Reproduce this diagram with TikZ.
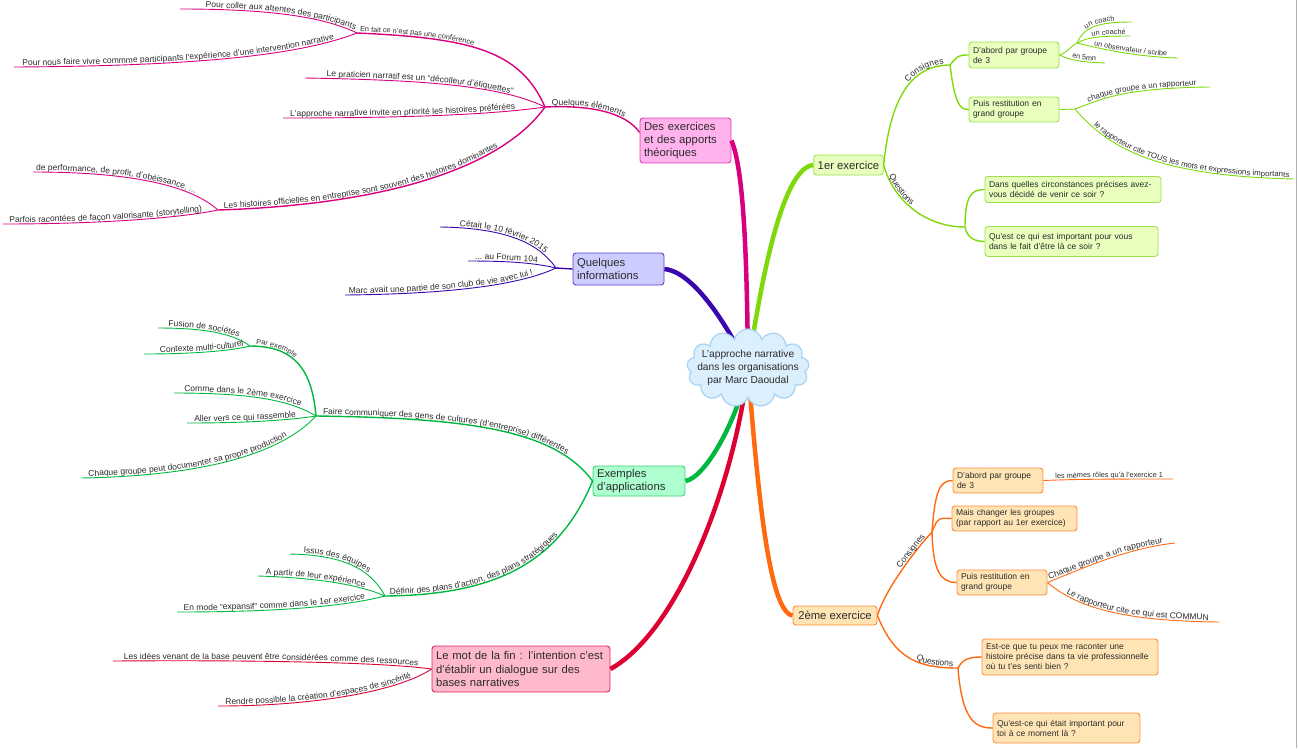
\documentclass[tikz,border=0pt]{standalone}
\usepackage{fontspec}
\setmainfont{Liberation Sans}
\usetikzlibrary{decorations.text,shapes.symbols}

\definecolor{txt}{HTML}{2B2B2B}
\definecolor{mgline}{HTML}{D8007F}
\definecolor{mgbox}{HTML}{FFB2EC}
\definecolor{mgedge}{HTML}{E23DB5}
\definecolor{plline}{HTML}{3A06AE}
\definecolor{plbox}{HTML}{CCCCFF}
\definecolor{pledge}{HTML}{5B3FC7}
\definecolor{grline}{HTML}{00B840}
\definecolor{grbox}{HTML}{ADFFD0}
\definecolor{gredge}{HTML}{3FCF70}
\definecolor{rdline}{HTML}{DC0033}
\definecolor{rdbox}{HTML}{FFB9CD}
\definecolor{rdedge}{HTML}{E0225A}
\definecolor{lmline}{HTML}{7ED90A}
\definecolor{lmbox}{HTML}{E8FFBE}
\definecolor{lmedge}{HTML}{9EE04E}
\definecolor{orline}{HTML}{FF6A10}
\definecolor{orbox}{HTML}{FFE5B5}
\definecolor{oredge}{HTML}{FF8B3D}
\definecolor{cloudfill}{HTML}{DCEFFC}
\definecolor{cloudedge}{HTML}{A6D3F3}

\newcommand\leafA{\fontsize{8.5}{10}\selectfont\color{txt}}
\newcommand\leafB{\fontsize{7.9}{9}\selectfont\color{txt}}
\newcommand\leafC{\fontsize{7.3}{8.5}\selectfont\color{txt}}

\tikzset{
  trunk/.style={line width=4.5pt},
  limb/.style={line width=1.4pt},
  twig/.style={line width=0.9pt},
  twigL/.style 2 args={postaction={decorate,decoration={text along path,raise=1.6pt,text align={align=right,right indent=#1},text={#2}}}},
  twigR/.style 2 args={postaction={decorate,decoration={text along path,raise=1.6pt,text align={align=left,left indent=#1},text={#2}}}},
  topic/.style={rounded corners=3pt,line width=0.9pt,align=left,inner xsep=4pt,inner ysep=2pt,text=txt,font=\fontsize{11.3}{13.3}\selectfont},
  leafbox/.style={topic,font=\fontsize{8.5}{10}\selectfont},
}

\begin{document}
\begin{tikzpicture}[x=1pt,y=-1pt]
\useasboundingbox (0,0) rectangle (1299,748);
\draw[black!30] (1296,0) -- (1296,748);

% main topics
\node[topic,fill=mgbox,draw=mgedge,text width=83pt,minimum height=45pt] (exo) at (685.5,140.5) {Des exercices\\et des apports\\théoriques};
\node[topic,fill=plbox,draw=pledge,text width=83pt,minimum height=32pt] (info) at (618.5,269) {Quelques\\informations};
\node[topic,fill=grbox,draw=gredge,text width=84pt,minimum height=30pt] (expl) at (639,481) {Exemples\\d'applications};
\node[topic,fill=rdbox,draw=rdedge,text width=170pt,minimum height=46pt] (fin) at (521,669) {Le mot de la fin : l'intention c'est\\d'établir un dialogue sur des\\bases narratives};
\node[topic,fill=lmbox,draw=lmedge,align=center,minimum width=67pt,minimum height=20pt] (ex1) at (848.5,165) {1er exercice};
\node[topic,fill=orbox,draw=oredge,align=center,minimum width=84pt,minimum height=19pt] (ex2) at (835,615.5) {2ème exercice};

% boxes of the two exercises
\node[leafbox,fill=lmbox,draw=lmedge,text width=82pt,minimum height=26pt] (dab1) at (1014,55) {D'abord par groupe\\de 3};
\node[leafbox,fill=lmbox,draw=lmedge,text width=82pt,minimum height=25pt] (pui1) at (1014,109.5) {Puis restitution en\\grand groupe};
\node[leafbox,fill=lmbox,draw=lmedge,text width=168pt,minimum height=26pt] (qa) at (1073,189.5) {Dans quelles circonstances précises avez-\\vous décidé de venir ce soir ?};
\node[leafbox,fill=lmbox,draw=lmedge,text width=165pt,minimum height=30pt] (qb) at (1071.5,241.5) {Qu'est ce qui est important pour vous\\dans le fait d'être là ce soir ?};
\node[leafbox,fill=orbox,draw=oredge,text width=82pt,minimum height=25pt] (dab2) at (998,480.5) {D'abord par groupe\\de 3};
\node[leafbox,fill=orbox,draw=oredge,text width=117pt,minimum height=25pt] (chg2) at (1014.5,518.5) {Mais changer les groupes\\(par rapport au 1er exercice)};
\node[leafbox,fill=orbox,draw=oredge,text width=82pt,minimum height=25pt] (pui2) at (1002,582.5) {Puis restitution en\\grand groupe};
\node[leafbox,fill=orbox,draw=oredge,text width=168pt,minimum height=36pt] (qc) at (1070,657) {Est-ce que tu peux me raconter une\\histoire précise dans ta vie professionnelle\\où tu t'es senti bien ?};
\node[leafbox,fill=orbox,draw=oredge,text width=139pt,minimum height=30pt] (qd) at (1066.5,728) {Qu'est-ce qui était important pour\\toi à ce moment là ?};

% hubs and free ends
\coordinate (core) at (748,368);
\coordinate (qe) at (545,107);
\coordinate (fait) at (357,33);
\coordinate (lho) at (218,210);
\coordinate (m1) at (180,9);
\coordinate (m2) at (14,67);
\coordinate (m3) at (305,78);
\coordinate (m4) at (283,118);
\coordinate (m5) at (33,172);
\coordinate (m6) at (3,224);
\coordinate (ih) at (556,268);
\coordinate (p1) at (440,227);
\coordinate (p2) at (468,261);
\coordinate (p3) at (345,295);
\coordinate (fc) at (316,416);
\coordinate (pe) at (250,346);
\coordinate (dp) at (385,596);
\coordinate (g1) at (158,328);
\coordinate (g2) at (144,354);
\coordinate (g3) at (174,393);
\coordinate (g4) at (187,423);
\coordinate (g5) at (81,478);
\coordinate (g6) at (290,554);
\coordinate (g7) at (258,576);
\coordinate (g8) at (177,612);
\coordinate (r1) at (113,661);
\coordinate (r2) at (218,706);
\coordinate (c1) at (950,65);
\coordinate (q1h) at (965,227);
\coordinate (a1h) at (1077,43);
\coordinate (p1h) at (1075,109);
\coordinate (l1) at (1132,22);
\coordinate (l2) at (1130,36);
\coordinate (l3) at (1178,58);
\coordinate (l4) at (1105,63);
\coordinate (l5) at (1210,87);
\coordinate (l6) at (1294,179);
\coordinate (c2) at (932,532);
\coordinate (q2h) at (958,668);
\coordinate (o1) at (1173,479);
\coordinate (o2) at (1175,543);
\coordinate (o3) at (1219,622);

% trunks
\draw[trunk,mgline] (core) .. controls (747,260) and (744,170) .. (exo.east);
\draw[trunk,plline] (core) .. controls (730,330) and (695,272) .. (info.east);
\draw[trunk,grline] (core) .. controls (738,420) and (705,478) .. (expl.east);
\draw[trunk,rdline] (core) .. controls (735,480) and (680,630) .. (fin.east);
\draw[trunk,lmline] (core) .. controls (764,260) and (785,168) .. (ex1.west);
\draw[trunk,orline] (core) .. controls (757,480) and (768,612) .. (ex2.west);

% des exercices et des apports
\draw[limb,mgline,twigR={7pt}{|\leafA|Quelques éléments}] (qe) .. controls (590,105) and (625,112) .. (exo.170);
\draw[limb,mgline,twigR={3pt}{|\leafC|En fait ce n'est pas une conférence}] (fait) .. controls (470,38) and (520,50) .. (qe);
\draw[twig,mgline,twigL={3pt}{|\leafA|Pour coller aux attentes des participants}] (m1) .. controls (260,9) and (320,15) .. (fait);
\draw[twig,mgline,twigL={24pt}{|\leafA|Pour nous faire vivre commme participants l'expérience d'une intervention narrative}] (m2) .. controls (200,66) and (300,55) .. (fait);
\draw[twig,mgline,twigL={35pt}{|\leafA|Le praticien narratif est un "décolleur d'étiquettes"}] (m3) .. controls (420,80) and (500,85) .. (qe);
\draw[twig,mgline,twigL={30pt}{|\leafA|L'approche narrative invite en priorité les histoires préférées}] (m4) .. controls (400,118) and (490,115) .. (qe);
\draw[limb,mgline,twigR={6pt}{|\leafA|Les histoires officielles en entreprise sont souvent des histoires dominantes}] (lho) .. controls (380,205) and (500,170) .. (qe);
\draw[twig,mgline,twigL={28pt}{|\leafA|de performance, de profit, d'obéissance, ...}] (m5) .. controls (130,172) and (190,185) .. (lho);
\draw[twig,mgline,twigL={16pt}{|\leafA|Parfois racontées de façon valorisante (storytelling)}] (m6) .. controls (100,224) and (180,218) .. (lho);

% quelques informations
\draw[limb,plline] (ih) -- (info.west);
\draw[twig,plline,twigL={18pt}{|\leafA|Cétait le 10 février 2015}] (p1) .. controls (510,228) and (540,245) .. (ih);
\draw[twig,plline,twigL={19pt}{|\leafA|... au Forum 104}] (p2) .. controls (510,261) and (535,263) .. (ih);
\draw[twig,plline,twigL={24pt}{|\leafA|Marc avait une partie de son club de vie avec lui !}] (p3) .. controls (450,294) and (520,285) .. (ih);

% exemples d'applications
\draw[limb,grline,twigR={7pt}{|\leafA|Faire communiquer des gens de cultures (d'entreprise) différentes}] (fc) .. controls (470,418) and (555,430) .. (expl.west);
\draw[limb,grline,twigR={6pt}{|\leafC|Par exemple}] (pe) .. controls (295,346) and (312,370) .. (fc);
\draw[twig,grline,twigL={14pt}{|\leafA|Fusion de sociétés}] (g1) .. controls (210,328) and (235,335) .. (pe);
\draw[twig,grline,twigL={6pt}{|\leafA|Contexte multi-culturel}] (g2) .. controls (200,354) and (235,350) .. (pe);
\draw[twig,grline,twigL={18pt}{|\leafA|Comme dans le 2ème exercice}] (g3) .. controls (250,393) and (290,400) .. (fc);
\draw[twig,grline,twigL={20pt}{|\leafA|Aller vers ce qui rassemble}] (g4) .. controls (250,423) and (290,420) .. (fc);
\draw[twig,grline,twigL={36pt}{|\leafA|Chaque groupe peut documenter sa propre production}] (g5) .. controls (200,476) and (280,455) .. (fc);
\draw[limb,grline,twigR={5pt}{|\leafA|Définir des plans d'action, des plans stratégiques}] (dp) .. controls (500,595) and (560,560) .. (expl.west);
\draw[twig,grline,twigL={28pt}{|\leafA|Issus des équipes}] (g6) .. controls (342,555) and (370,568) .. (dp);
\draw[twig,grline,twigL={22pt}{|\leafA|A partir de leur expérience}] (g7) .. controls (320,578) and (360,585) .. (dp);
\draw[twig,grline,twigL={20pt}{|\leafA|En mode "expansif" comme dans le 1er exercice}] (g8) .. controls (290,612) and (350,605) .. (dp);

% le mot de la fin
\draw[twig,rdline,twigL={14pt}{|\leafA|Les idées venant de la base peuvent être considérées comme des ressources}] (r1) .. controls (250,660) and (380,662) .. (fin.west);
\draw[twig,rdline,twigL={22pt}{|\leafA|Rendre possible la création d'espaces de sincérité}] (r2) .. controls (320,706) and (400,690) .. (fin.west);

% 1er exercice
\draw[limb,lmline,twigL={6pt}{|\leafA|Consignes}] (ex1.east) .. controls (890,100) and (910,65) .. (c1);
\draw[limb,lmline,twigR={12pt}{|\leafA|Questions}] (ex1.east) .. controls (893,200) and (925,227) .. (q1h);
\draw[limb,lmline] (c1) .. controls (958,55) and (960,55) .. (dab1.west);
\draw[limb,lmline] (c1) .. controls (955,105) and (960,109.5) .. (pui1.west);
\draw[limb,lmline] (q1h) .. controls (965,195) and (972,189.5) .. (qa.west);
\draw[limb,lmline] (q1h) .. controls (967,238) and (975,241.5) .. (qb.west);
\draw[twig,lmline] (dab1.east) .. controls (1068,52) and (1072,45) .. (a1h);
\draw[twig,lmline,twigR={16pt}{|\leafC|un coach}] (a1h) .. controls (1084,28) and (1095,22) .. (l1);
\draw[twig,lmline,twigR={16pt}{|\leafC|un coaché}] (a1h) .. controls (1088,37) and (1100,36) .. (l2);
\draw[twig,lmline,twigR={17pt}{|\leafC|un observateur / scribe}] (a1h) .. controls (1105,50) and (1140,57) .. (l3);
\draw[twig,lmline,twigR={13pt}{|\leafC|en 5mn}] (dab1.east) .. controls (1070,60) and (1080,62) .. (l4);
\draw[twig,lmline] (pui1.east) -- (p1h);
\draw[twig,lmline,twigR={15pt}{|\leafB|chaque groupe a un rapporteur}] (p1h) .. controls (1100,100) and (1120,88) .. (l5);
\draw[twig,lmline,twigR={25pt}{|\leafB|le rapporteur cite TOUS les mots et expressions importants}] (p1h) .. controls (1110,150) and (1160,176) .. (l6);

% 2eme exercice
\draw[limb,orline,twigL={8pt}{|\leafA|Consignes}] (ex2.east) .. controls (885,590) and (915,550) .. (c2);
\draw[limb,orline,twigL={5pt}{|\leafA|Questions}] (ex2.east) .. controls (895,660) and (920,668) .. (q2h);
\draw[limb,orline] (c2) .. controls (935,490) and (940,480.5) .. (dab2.west);
\draw[limb,orline] (c2) .. controls (938,515) and (942,518.5) .. (chg2.west);
\draw[limb,orline] (c2) .. controls (933,570) and (940,582.5) .. (pui2.west);
\draw[limb,orline] (q2h) .. controls (962,660) and (968,657) .. (qc.west);
\draw[limb,orline] (q2h) .. controls (962,720) and (975,728) .. (qd.west);
\draw[twig,orline,twigR={12pt}{|\leafC|les mêmes rôles qu'à l'exercice 1}] (dab2.east) .. controls (1080,479) and (1120,479) .. (o1);
\draw[twig,orline,twigR={3pt}{|\leafA|Chaque groupe a un rapporteur}] (pui2.east) .. controls (1090,565) and (1130,548) .. (o2);
\draw[twig,orline,twigR={22pt}{|\leafA|Le rapporteur cite ce qui est COMMUN}] (pui2.east) .. controls (1080,610) and (1130,621) .. (o3);

% central idea
\node[cloud,cloud puffs=13,fill=cloudfill,draw=cloudedge,line width=1.2pt,minimum width=122pt,minimum height=78pt,inner sep=0pt] (cloud) at (core) {};
\node[align=center,text=txt,font=\fontsize{10.2}{12.8}\selectfont] (title) at (core) {L'approche narrative\\dans les organisations\\par Marc Daoudal};
\end{tikzpicture}
\end{document}
